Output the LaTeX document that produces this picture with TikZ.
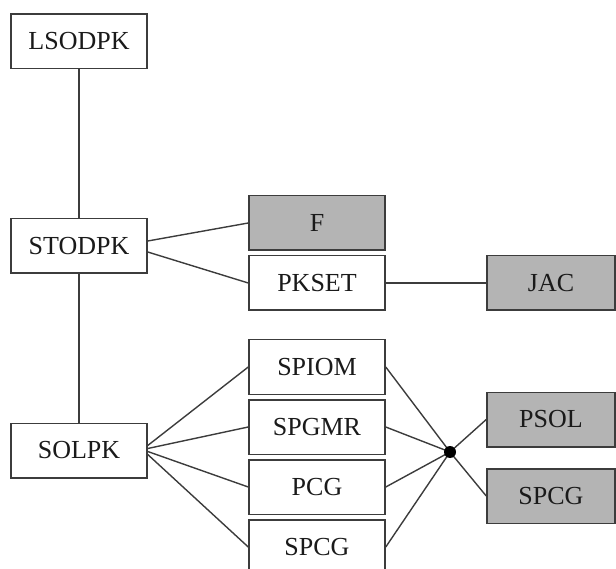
\documentclass[tikz,border=0pt]{standalone}
\usepackage{fontspec}
\setmainfont{Liberation Serif}
\definecolor{boxgray}{RGB}{180,180,180}
\definecolor{edgegray}{RGB}{60,60,60}
\definecolor{inkgray}{RGB}{26,26,26}
\begin{document}
\begin{tikzpicture}[x=1pt,y=-1pt,
  routine/.style={draw=edgegray, line width=1.5pt, fill=white, rectangle,
    minimum width=136pt, minimum height=54.5pt, inner sep=0pt,
    font=\fontsize{26}{30}\selectfont, text=inkgray},
  userbox/.style={routine, fill=boxgray},
  link/.style={draw=edgegray, line width=1.4pt}]
\useasboundingbox (0,0) rectangle (616,569);
\clip (0,0) rectangle (616,569);

% call tree: driver and integrator
\node[routine] (lsodpk) at (79,41.5) {LSODPK};
\node[routine] (stodpk) at (79,246) {STODPK};
\node[routine] (solpk)  at (79,450.5) {SOLPK};

% user-supplied and setup routines
\node[userbox] (f)     at (317,223) {F};
\node[routine] (pkset) at (317,283) {PKSET};
\node[userbox, minimum width=128pt] (jac) at (551,283) {JAC};

% Krylov solvers
\node[routine] (spiom) at (317,367) {SPIOM};
\node[routine] (spgmr) at (317,427) {SPGMR};
\node[routine] (pcg)   at (317,487) {PCG};
\node[routine] (spcga) at (317,547) {SPCG};

% preconditioner routines
\node[userbox, minimum width=128pt] (psol)  at (551,419.5) {PSOL};
\node[userbox, minimum width=128pt] (spcgb) at (551,496) {SPCG};

% junction dot
\coordinate (hub) at (450,452);

\draw[link] (lsodpk.south) -- (stodpk.north);
\draw[link] (stodpk.south) -- (solpk.north);
\draw[link] ([yshift=5pt]stodpk.east) -- (f.west);
\draw[link] ([yshift=-6pt]stodpk.east) -- (pkset.west);
\draw[link] (pkset.east) -- (jac.west);

\draw[link] ([yshift=5pt]solpk.east) -- (spiom.west);
\draw[link] ([yshift=2pt]solpk.east) -- (spgmr.west);
\draw[link] ([yshift=-1pt]solpk.east) -- (pcg.west);
\draw[link] ([yshift=-4pt]solpk.east) -- (spcga.west);

\draw[link] (spiom.east) -- (hub);
\draw[link] (spgmr.east) -- (hub);
\draw[link] (pcg.east) -- (hub);
\draw[link] (spcga.east) -- (hub);
\draw[link] (hub) -- (psol.west);
\draw[link] (hub) -- (spcgb.west);
\fill[black] (hub) circle (6pt);
\end{tikzpicture}
\end{document}
